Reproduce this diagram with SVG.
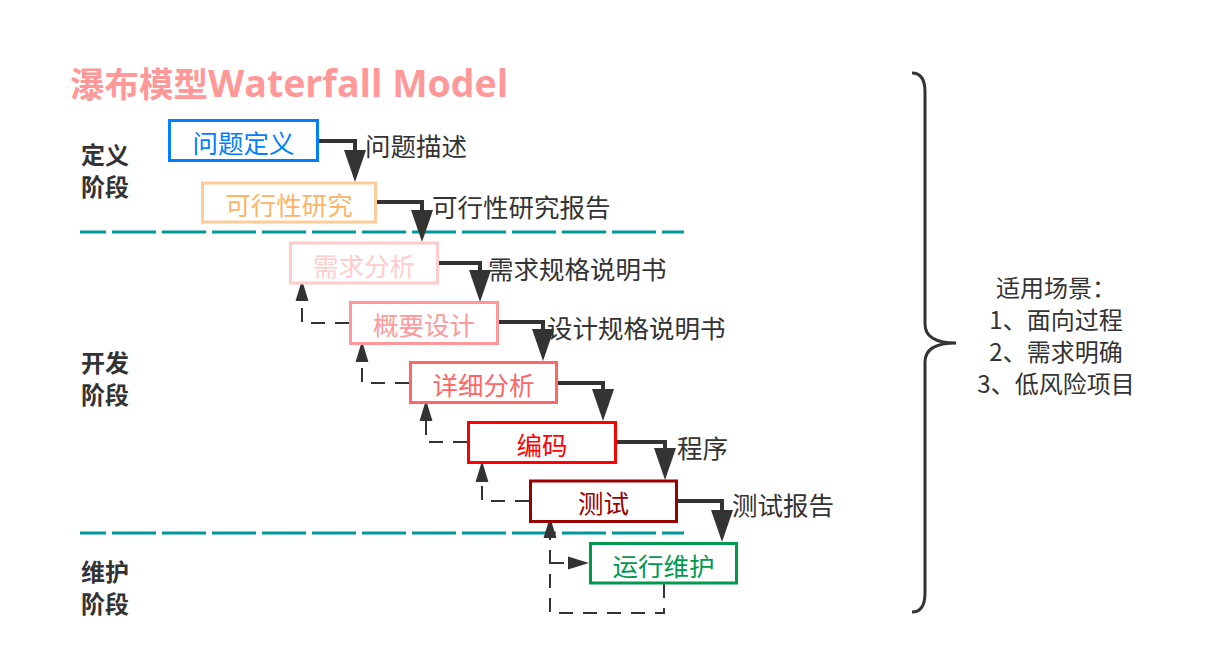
<svg xmlns="http://www.w3.org/2000/svg" width="1228" height="672" viewBox="0 0 1228 672">
  <style>
    .box { fill: #ffffff; stroke-width: 3; }
    .bt { font-family: "Noto Sans CJK SC", sans-serif; font-size: 25.5px; text-anchor: middle; dominant-baseline: central; }
    .lbl { font-family: "Noto Sans CJK SC", sans-serif; font-size: 25.5px; fill: #333333; dominant-baseline: central; }
    .stage { font-family: "Noto Sans CJK SC", sans-serif; font-size: 24px; font-weight: bold; fill: #333333; dominant-baseline: central; }
    .main { fill: none; stroke: #333333; stroke-width: 4; marker-end: url(#bigArrow); }
    .back { fill: none; stroke: #333333; stroke-width: 2; stroke-dasharray: 14 10; marker-end: url(#smallArrow); }
    .sep { fill: none; stroke: #009999; stroke-width: 3; stroke-dasharray: 44 6; stroke-dashoffset: 18; }
    .note { font-family: "Noto Sans CJK SC", sans-serif; font-size: 24px; fill: #333333; text-anchor: middle; dominant-baseline: central; }
  </style>
  <defs>
    <marker id="bigArrow" markerUnits="userSpaceOnUse" markerWidth="32" markerHeight="22" refX="0" refY="11" orient="auto">
      <path d="M0,0 L32,11 L0,22 z" fill="#333333"/>
    </marker>
    <marker id="smallArrow" markerUnits="userSpaceOnUse" markerWidth="21" markerHeight="14" refX="0" refY="7" orient="auto">
      <path d="M0,0.5 L21,7 L0,13.5 z" fill="#333333"/>
    </marker>
  </defs>
  <rect width="1228" height="672" fill="#ffffff"/>

  <!-- title -->
  <text x="70" y="97" font-weight="bold" fill="#FF9999"><tspan font-family="'Noto Sans CJK SC', sans-serif" font-size="34.5">瀑布模型</tspan><tspan font-family="'Open Sans', sans-serif" font-size="37.5">Waterfall Model</tspan></text>

  <!-- stage labels -->
  <g id="stage-define">
    <text class="stage" x="81" y="153">定义</text>
    <text class="stage" x="81" y="185">阶段</text>
  </g>
  <g id="stage-develop">
    <text class="stage" x="81" y="361">开发</text>
    <text class="stage" x="81" y="393">阶段</text>
  </g>
  <g id="stage-maintain">
    <text class="stage" x="81" y="570">维护</text>
    <text class="stage" x="81" y="602">阶段</text>
  </g>

  <!-- separators -->
  <g id="separators">
    <line class="sep" x1="80" y1="232" x2="684" y2="232"/>
    <line class="sep" x1="80" y1="533" x2="684" y2="533"/>
  </g>

  <!-- connectors -->
  <g id="connectors">
    <path class="main" d="M319,141 H355 V150"/>
    <path class="main" d="M376,202 H422 V210"/>
    <path class="main" d="M438,263 H480 V270"/>
    <path class="main" d="M499,322 H543 V329"/>
    <path class="main" d="M558,383 H603 V389"/>
    <path class="main" d="M617,442 H665 V448"/>
    <path class="main" d="M678,501 H722 V510"/>

    <path class="back" d="M349,323 H302 V301"/>
    <path class="back" d="M409,383 H362 V362"/>
    <path class="back" d="M467,442 H426 V421"/>
    <path class="back" d="M529,501 H482 V482"/>
    <path class="back" d="M664,584 V613 H550 V538"/>
    <path class="back" d="M550,563 H568"/>

    <text class="lbl" x="365" y="144">问题描述</text>
    <text class="lbl" x="432" y="205">可行性研究报告</text>
    <text class="lbl" x="488" y="267">需求规格说明书</text>
    <text class="lbl" x="547" y="326">设计规格说明书</text>
    <text class="lbl" x="677" y="446">程序</text>
    <text class="lbl" x="732" y="503">测试报告</text>
  </g>

  <!-- nodes -->
  <g id="n-problem">
    <rect class="box" x="169.5" y="120.5" width="148" height="40" stroke="#007FFF"/>
    <text class="bt" x="243.5" y="141" fill="#007FFF">问题定义</text>
  </g>
  <g id="n-feasibility">
    <rect class="box" x="202.5" y="183" width="173" height="39" stroke="#FFCC99"/>
    <text class="bt" x="289" y="203" fill="#FFB366">可行性研究</text>
  </g>
  <g id="n-requirements">
    <rect class="box" x="290.5" y="243" width="147" height="40" stroke="#FFCCCC"/>
    <text class="bt" x="364" y="264" fill="#FFCCCC">需求分析</text>
  </g>
  <g id="n-outline">
    <rect class="box" x="350.5" y="302.5" width="147" height="41" stroke="#FF9999"/>
    <text class="bt" x="424" y="323" fill="#FF9999">概要设计</text>
  </g>
  <g id="n-detail">
    <rect class="box" x="410.5" y="362.5" width="146" height="40" stroke="#FF6666"/>
    <text class="bt" x="483.5" y="383" fill="#FF6666">详细分析</text>
  </g>
  <g id="n-coding">
    <rect class="box" x="468.5" y="422.5" width="147" height="40" stroke="#FF0000"/>
    <text class="bt" x="542" y="443" fill="#FF0000">编码</text>
  </g>
  <g id="n-testing">
    <rect class="box" x="530.5" y="481" width="146" height="40.5" stroke="#990000"/>
    <text class="bt" x="603.5" y="501.5" fill="#990000">测试</text>
  </g>
  <g id="n-maintenance">
    <rect class="box" x="590.5" y="543.5" width="146" height="39.5" stroke="#00994D"/>
    <text class="bt" x="663.5" y="564" fill="#00994D">运行维护</text>
  </g>

  <!-- brace and note -->
  <g id="brace">
    <path d="M912,73 Q925,73 925,92 L925,324 Q925,343 956,343 Q925,343 925,362 L925,593 Q925,612 912,612" fill="none" stroke="#333333" stroke-width="3"/>
  </g>
  <g id="note">
    <text class="note" x="1056" y="286">适用场景：</text>
    <text class="note" x="1056" y="318">1、面向过程</text>
    <text class="note" x="1056" y="350">2、需求明确</text>
    <text class="note" x="1056" y="382">3、低风险项目</text>
  </g>
</svg>
